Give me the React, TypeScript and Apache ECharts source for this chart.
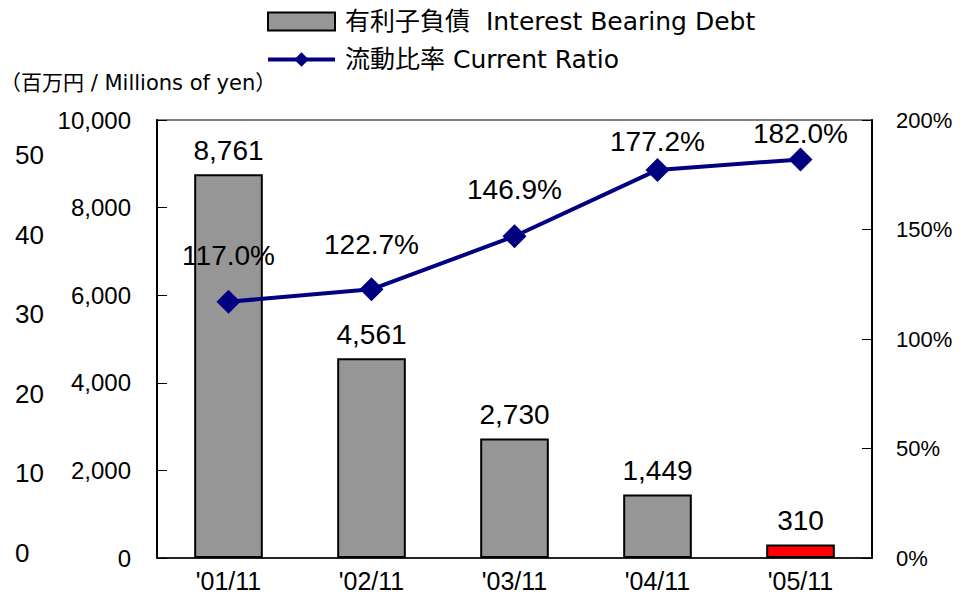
import React, { useEffect, useRef } from "react";
import * as echarts from "echarts";

const categories = ["'01/11", "'02/11", "'03/11", "'04/11", "'05/11"];
const debtValues = [8761, 4561, 2730, 1449, 310];
const ratioValues = [117.0, 122.7, 146.9, 177.2, 182.0];
const debtName = "有利子負債  Interest Bearing Debt";
const ratioName = "流動比率 Current Ratio";
const unitText = "（百万円 / Millions of yen）";
const highlightIndex = 4;
const ratioLabelDistance = [20, 19, 21, 2, 0];

const NUM_FONT = "'Liberation Sans', Arial, sans-serif";
const TXT_FONT = "'DejaVu Sans', 'Noto Sans CJK JP', sans-serif";

export default function App() {
  const ref = useRef<HTMLDivElement>(null);
  useEffect(() => {
    if (!ref.current) return;
    const chart = echarts.init(ref.current, undefined, { renderer: "svg" });
    const option: any = {
      animation: false,
      backgroundColor: "#ffffff",
      title: {
        text: unitText,
        left: 0,
        top: 72,
        padding: 0,
        textStyle: { fontSize: 21, fontWeight: "normal", color: "#000", fontFamily: TXT_FONT },
      },
      legend: {
        orient: "vertical",
        left: 266,
        top: 7,
        padding: 0,
        itemWidth: 67,
        itemHeight: 18,
        itemGap: 9,
        textStyle: { fontSize: 25, color: "#000", fontFamily: TXT_FONT, lineHeight: 29, padding: [0, 0, 0, 5] },
        data: [
          { name: debtName, icon: "rect" },
          { name: ratioName, lineStyle: { width: 4, color: "#000080" } },
        ],
      },
      grid: [
        { left: 157, right: 95, top: 120, bottom: 42, show: true, borderColor: "#808080", borderWidth: 2, backgroundColor: "transparent" },
        { left: 157, right: 95, top: 155, bottom: 47, show: false },
      ],
      xAxis: [
        {
          type: "category",
          data: categories,
          gridIndex: 0,
          axisLine: { lineStyle: { color: "#222", width: 2 } },
          axisTick: { inside: true, length: 12, lineStyle: { color: "#000", width: 1 } },
          axisLabel: { fontSize: 25, color: "#000", fontFamily: NUM_FONT, margin: 10 },
        },
        { type: "category", data: categories, gridIndex: 1, show: false },
      ],
      yAxis: [
        {
          type: "value",
          gridIndex: 0,
          position: "left",
          min: 0,
          max: 10000,
          interval: 2000,
          axisLine: { show: true, lineStyle: { color: "#000", width: 2 } },
          axisTick: { show: true, inside: true, length: 10, lineStyle: { color: "#000" } },
          splitLine: { show: false },
          axisLabel: {
            fontSize: 24,
            color: "#000",
            fontFamily: NUM_FONT,
            margin: 26,
            formatter: (v: number) => v.toLocaleString("en-US"),
          },
        },
        {
          type: "value",
          gridIndex: 0,
          position: "right",
          min: 0,
          max: 200,
          interval: 50,
          axisLine: { show: true, lineStyle: { color: "#000", width: 2 } },
          axisTick: { show: true, inside: true, length: 10, lineStyle: { color: "#000" } },
          splitLine: { show: false },
          axisLabel: { fontSize: 22, color: "#000", fontFamily: NUM_FONT, margin: 24, formatter: "{value}%" },
        },
        {
          type: "value",
          gridIndex: 1,
          position: "left",
          min: 0,
          max: 50,
          interval: 10,
          axisLine: { show: false },
          axisTick: { show: false },
          splitLine: { show: false },
          axisLabel: { fontSize: 26, color: "#000", fontFamily: NUM_FONT, margin: 142, align: "left" },
        },
      ],
      series: [
        {
          name: debtName,
          type: "bar",
          xAxisIndex: 0,
          yAxisIndex: 0,
          barWidth: "48%",
          itemStyle: { color: "#969696", borderColor: "#000", borderWidth: 2 },
          label: {
            show: true,
            position: "top",
            distance: 10,
            fontSize: 28,
            color: "#000",
            fontFamily: NUM_FONT,
            formatter: (p: any) => Number(p.value).toLocaleString("en-US"),
          },
          data: debtValues.map((v, i) =>
            i === highlightIndex ? { value: v, itemStyle: { color: "#ff0000" } } : { value: v }
          ),
          z: 2,
        },
        {
          name: ratioName,
          type: "line",
          xAxisIndex: 0,
          yAxisIndex: 1,
          symbol: "diamond",
          symbolSize: 24,
          lineStyle: { color: "#000080", width: 4 },
          itemStyle: { color: "#000080" },
          label: {
            show: true,
            position: "top",
            fontSize: 28,
            color: "#000",
            fontFamily: NUM_FONT,
            formatter: (p: any) => Number(p.value).toFixed(1) + "%",
          },
          data: ratioValues.map((v, i) => ({ value: v, label: { distance: ratioLabelDistance[i] } })),
          z: 3,
        },
      ],
    };
    chart.setOption(option);
    return () => chart.dispose();
  }, []);
  return <div ref={ref} style={{ position: "absolute", left: 0, top: 0, width: 967, height: 600 }} />;
}
